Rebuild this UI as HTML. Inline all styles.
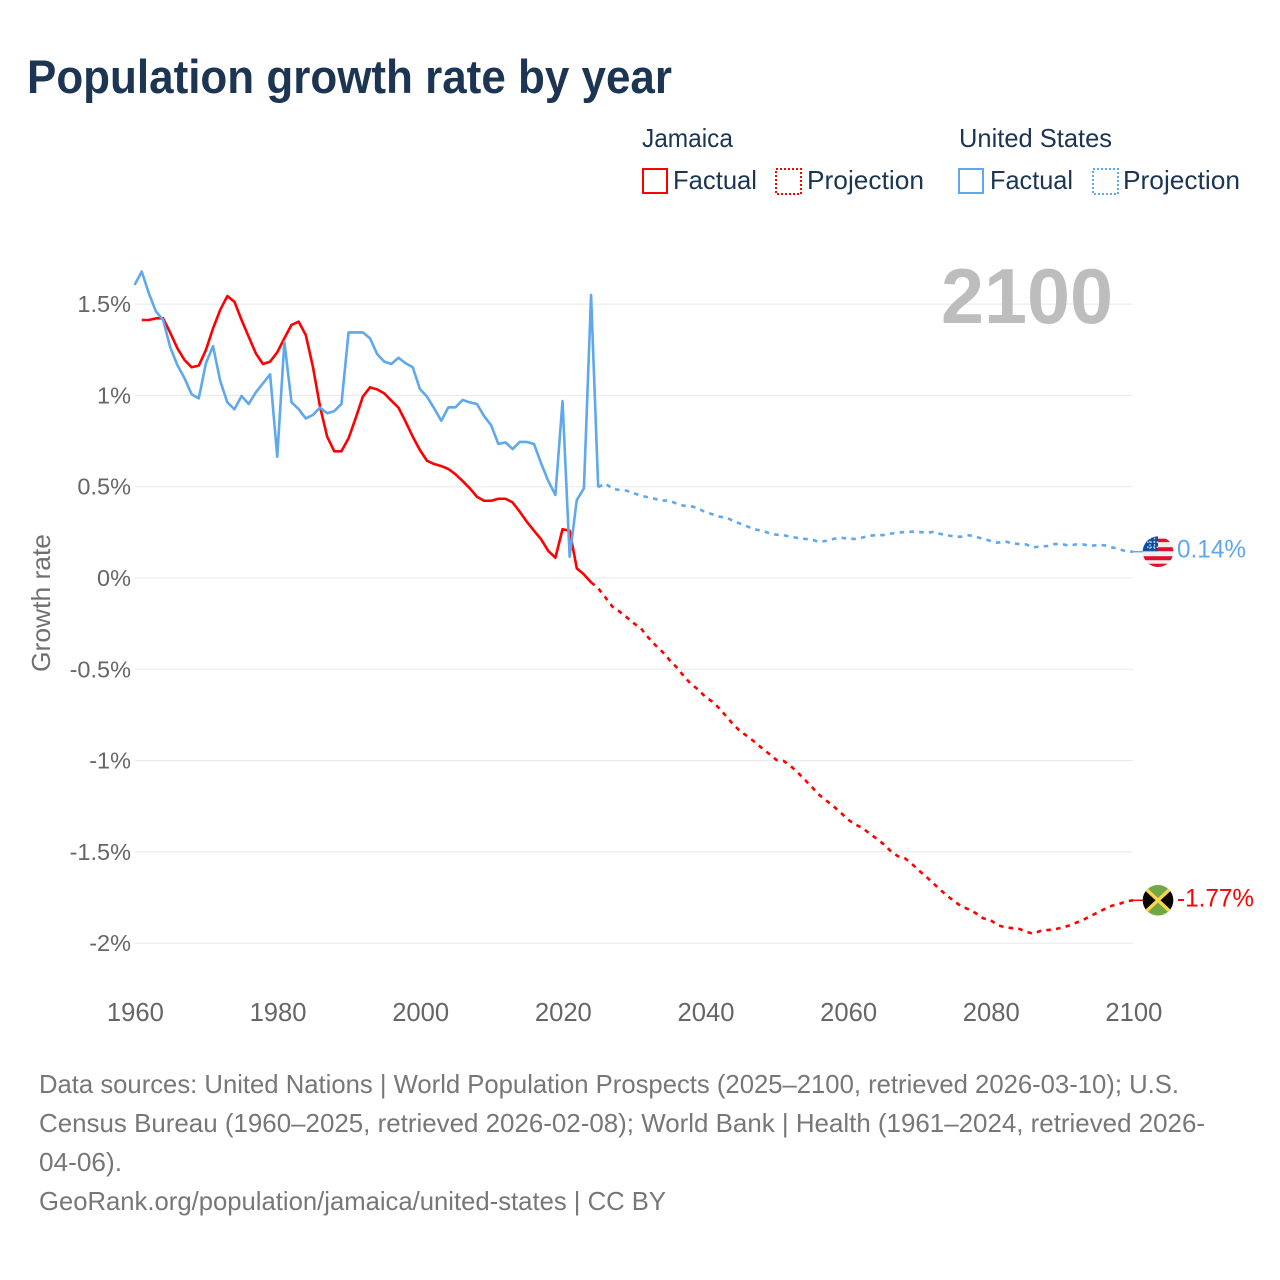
<!DOCTYPE html>
<html lang="en">
<head>
<meta charset="utf-8">
<title>Population growth rate by year</title>
<style>
html,body{margin:0;padding:0;background:#fff;width:1280px;height:1280px;overflow:hidden}
svg{display:block;font-family:"Liberation Sans",sans-serif}
</style>
</head>
<body>
<svg id="chart" xmlns="http://www.w3.org/2000/svg" width="1280" height="1280" viewBox="0 0 1280 1280">
  <rect width="1280" height="1280" fill="#fff"/>
  <text x="27" y="93" font-size="47" font-weight="700" fill="#1b3553" textLength="645" lengthAdjust="spacingAndGlyphs">Population growth rate by year</text>

  <g font-size="26" fill="#1b3553">
    <text x="642" y="147" textLength="91" lengthAdjust="spacingAndGlyphs">Jamaica</text>
    <text x="959" y="147" textLength="153" lengthAdjust="spacingAndGlyphs">United States</text>
    <g>
      <rect x="643" y="169" width="24" height="24" fill="none" stroke="#ff0000" stroke-width="2"/>
      <text x="673" y="189" textLength="84" lengthAdjust="spacingAndGlyphs">Factual</text>
    </g>
    <g>
      <rect x="776" y="169" width="25" height="25" fill="none" stroke="#ff0000" stroke-width="2" stroke-dasharray="2 2"/>
      <text x="807" y="189" textLength="117" lengthAdjust="spacingAndGlyphs">Projection</text>
    </g>
    <g>
      <rect x="959" y="169" width="24" height="24" fill="none" stroke="#5ea8ed" stroke-width="2"/>
      <text x="990" y="189" textLength="83" lengthAdjust="spacingAndGlyphs">Factual</text>
    </g>
    <g>
      <rect x="1093" y="169" width="25" height="25" fill="none" stroke="#5ea8ed" stroke-width="2" stroke-dasharray="2 2"/>
      <text x="1123" y="189" textLength="117" lengthAdjust="spacingAndGlyphs">Projection</text>
    </g>
  </g>

  <g id="grid"></g>
  <g id="yTicksG" font-size="23.5" fill="#666" text-anchor="end"></g>
  <g id="xTicksG" font-size="25.6" fill="#666" text-anchor="middle"></g>
  <text transform="translate(50,672) rotate(-90)" font-size="26" fill="#707070" textLength="138" lengthAdjust="spacingAndGlyphs">Growth rate</text>
  <text x="941" y="323" font-size="78" font-weight="700" fill="#bdbdbd" textLength="172" lengthAdjust="spacingAndGlyphs">2100</text>

  <g id="series"></g>

  <defs>
    <clipPath id="flagClip"><circle cx="0" cy="0" r="15.3"/></clipPath>
  </defs>
  <g id="flagUS" clip-path="url(#flagClip)">
    <rect x="-16" y="-16" width="32" height="32" fill="#eeeeee"/>
    <rect x="-16" y="-13" width="32" height="3.4" fill="#e0102f"/>
    <rect x="-16" y="-4.5" width="32" height="4" fill="#e0102f"/>
    <rect x="-16" y="4.5" width="32" height="4" fill="#e0102f"/>
    <rect x="-16" y="12" width="32" height="4" fill="#e0102f"/>
    <rect x="-16" y="-16" width="16" height="15.5" fill="#0b4ea2"/>
    <path d="M-11-9.5h11M-11-4.5h11M-8-14v13M-3.5-14v13" stroke="#c9d8ee" stroke-width="1.3" stroke-dasharray="1.6 1.6" fill="none"/>
  </g>
  <g id="flagJM" clip-path="url(#flagClip)">
    <rect x="-16" y="-16" width="32" height="32" fill="#6fa844"/>
    <path d="M-16-16L0 0L-16 16ZM16-16L0 0L16 16Z" fill="#050505"/>
    <path d="M-14-13L14 13M14-13L-14 13" stroke="#fcd44e" stroke-width="3.4" fill="none"/>
  </g>
  <text id="labelUS" x="1177" font-size="25" fill="#5ea8ed" textLength="69" lengthAdjust="spacingAndGlyphs">0.14%</text>
  <text id="labelJM" x="1177" font-size="25" fill="#ff0000" textLength="77" lengthAdjust="spacingAndGlyphs">-1.77%</text>

  <g font-size="26" fill="#777">
    <text x="39" y="1093" textLength="1140" lengthAdjust="spacingAndGlyphs">Data sources: United Nations | World Population Prospects (2025–2100, retrieved 2026-03-10); U.S.</text>
    <text x="39" y="1132" textLength="1166" lengthAdjust="spacingAndGlyphs">Census Bureau (1960–2025, retrieved 2026-02-08); World Bank | Health (1961–2024, retrieved 2026-</text>
    <text x="39" y="1171" textLength="83" lengthAdjust="spacingAndGlyphs">04-06).</text>
    <text x="39" y="1210" textLength="627" lengthAdjust="spacingAndGlyphs">GeoRank.org/population/jamaica/united-states | CC BY</text>
  </g>
</svg>
<script>
const yTickValues = [1.5, 1, 0.5, 0, -0.5, -1, -1.5, -2];
const yTickLabels = ["1.5%", "1%", "0.5%", "0%", "-0.5%", "-1%", "-1.5%", "-2%"];
const xTickValues = [1960, 1980, 2000, 2020, 2040, 2060, 2080, 2100];
const usFactualStart = 1960;
const usFactual = [
  1.605,1.678,1.559,1.459,1.413,1.263,1.166,1.094,1.006,0.984,
  1.176,1.270,1.080,0.962,0.924,0.997,0.953,1.017,1.066,1.115,
  0.664,1.294,0.962,0.925,0.874,0.893,0.933,0.902,0.914,0.953,
  1.345,1.345,1.345,1.313,1.227,1.185,1.172,1.206,1.176,1.154,
  1.035,0.993,0.929,0.861,0.935,0.935,0.975,0.962,0.953,0.887,
  0.836,0.734,0.743,0.706,0.745,0.745,0.734,0.628,0.531,0.455,
  0.969,0.117,0.427,0.491,1.550,0.497
];
const usProjectionStart = 2025;
const usProjection = [
  0.497,0.518,0.489,0.482,0.478,0.464,0.451,0.442,0.433,0.424,
  0.424,0.407,0.396,0.394,0.381,0.361,0.349,0.336,0.330,0.312,
  0.296,0.281,0.266,0.259,0.245,0.237,0.234,0.226,0.219,0.214,
  0.210,0.197,0.204,0.214,0.221,0.215,0.214,0.221,0.232,0.234,
  0.235,0.243,0.248,0.252,0.254,0.252,0.248,0.252,0.241,0.234,
  0.226,0.226,0.234,0.225,0.214,0.203,0.193,0.201,0.190,0.186,
  0.184,0.168,0.173,0.175,0.186,0.186,0.177,0.184,0.184,0.175,
  0.181,0.179,0.168,0.159,0.146,0.144
];
const jamaicaFactualStart = 1961;
const jamaicaFactual = [
  1.413,1.413,1.422,1.422,1.343,1.258,1.194,1.154,1.163,
  1.249,1.367,1.468,1.544,1.513,1.413,1.321,1.230,1.172,1.185,
  1.236,1.313,1.386,1.404,1.331,1.157,0.938,0.774,0.694,0.694,
  0.765,0.876,0.993,1.044,1.033,1.011,0.971,0.933,0.856,0.774,
  0.701,0.642,0.624,0.613,0.597,0.568,0.531,0.491,0.445,0.423,
  0.423,0.434,0.434,0.414,0.363,0.308,0.259,0.212,0.148,0.111,
  0.267,0.259,0.053,0.020,-0.024
];
const jamaicaProjectionStart = 2024;
const jamaicaProjection = [
  -0.024,-0.056,-0.106,-0.157,-0.184,-0.215,-0.248,-0.276,-0.325,-0.367,-0.404,
  -0.449,-0.489,-0.537,-0.580,-0.610,-0.650,-0.677,-0.714,-0.760,-0.805,
  -0.842,-0.869,-0.900,-0.933,-0.964,-0.997,-1.002,-1.030,-1.066,-1.106,
  -1.146,-1.188,-1.219,-1.250,-1.285,-1.322,-1.349,-1.367,-1.398,-1.426,
  -1.457,-1.495,-1.523,-1.535,-1.566,-1.603,-1.636,-1.672,-1.709,-1.742,
  -1.773,-1.800,-1.815,-1.837,-1.864,-1.873,-1.901,-1.913,-1.917,-1.921,
  -1.937,-1.948,-1.933,-1.928,-1.924,-1.915,-1.904,-1.888,-1.873,-1.851,
  -1.833,-1.813,-1.795,-1.786,-1.771,-1.765
];

const NS = "http://www.w3.org/2000/svg";
const xScale = function (year) { return 134.6 + (year - 1960) * (998.5 / 140); };
const yScale = function (value) { return 578 - value * 182.6; };

const gridGroup = document.getElementById("grid");
const yTicksGroup = document.getElementById("yTicksG");
const xTicksGroup = document.getElementById("xTicksG");
const seriesGroup = document.getElementById("series");

yTickValues.forEach(function (value, i) {
  const line = document.createElementNS(NS, "line");
  line.setAttribute("x1", 135);
  line.setAttribute("x2", 1133);
  line.setAttribute("y1", yScale(value));
  line.setAttribute("y2", yScale(value));
  line.setAttribute("stroke", "#e8e8e8");
  line.setAttribute("stroke-width", 1);
  
  
  gridGroup.appendChild(line);

  const label = document.createElementNS(NS, "text");
  label.setAttribute("x", 131);
  label.setAttribute("y", yScale(value) + 8);
  label.textContent = yTickLabels[i];
  
  
  yTicksGroup.appendChild(label);
});

xTickValues.forEach(function (year) {
  const label = document.createElementNS(NS, "text");
  label.setAttribute("x", xScale(year) + 0.8);
  label.setAttribute("y", 1021);
  label.textContent = String(year);
  
  
  xTicksGroup.appendChild(label);
});

function pathFrom(values, startYear) {
  return values.map(function (value, i) {
    return (i ? "L" : "M") + xScale(startYear + i).toFixed(2) + " " + yScale(value).toFixed(2);
  }).join("");
}

function addLine(values, startYear, color, dashed) {
  const path = document.createElementNS(NS, "path");
  path.setAttribute("d", pathFrom(values, startYear));
  path.setAttribute("fill", "none");
  path.setAttribute("stroke", color);
  path.setAttribute("stroke-width", 2.6);
  path.setAttribute("stroke-linejoin", "round");
  if (dashed) path.setAttribute("stroke-dasharray", "4.6 5.2");
  seriesGroup.appendChild(path);
  return path;
}

const jamaicaProjectionLine = addLine(jamaicaProjection, jamaicaProjectionStart, "#ff0000", true);


const usProjectionLine = addLine(usProjection, usProjectionStart, "#5ea8ed", true);


const jamaicaFactualLine = addLine(jamaicaFactual, jamaicaFactualStart, "#ff0000", false);


const usFactualLine = addLine(usFactual, usFactualStart, "#5ea8ed", false);



function addConnector(endValue, color) {
  const line = document.createElementNS(NS, "line");
  line.setAttribute("x1", xScale(2100));
  line.setAttribute("x2", xScale(2100) + 12);
  line.setAttribute("y1", yScale(endValue));
  line.setAttribute("y2", yScale(endValue));
  line.setAttribute("stroke", color);
  line.setAttribute("stroke-width", 1.5);
  seriesGroup.appendChild(line);
  return line;
}
const usEndValue = usProjection[usProjection.length - 1];
const jamaicaEndValue = jamaicaProjection[jamaicaProjection.length - 1];
const usConnector = addConnector(usEndValue, "#5ea8ed");


const jamaicaConnector = addConnector(jamaicaEndValue, "#ff0000");



document.getElementById("flagUS").setAttribute("transform", "translate(1158," + yScale(usEndValue).toFixed(2) + ")");
document.getElementById("flagJM").setAttribute("transform", "translate(1158," + yScale(jamaicaEndValue).toFixed(2) + ")");
document.getElementById("labelUS").setAttribute("y", (yScale(usEndValue) + 6).toFixed(2));
document.getElementById("labelJM").setAttribute("y", (yScale(jamaicaEndValue) + 6).toFixed(2));
</script>
</body>
</html>
